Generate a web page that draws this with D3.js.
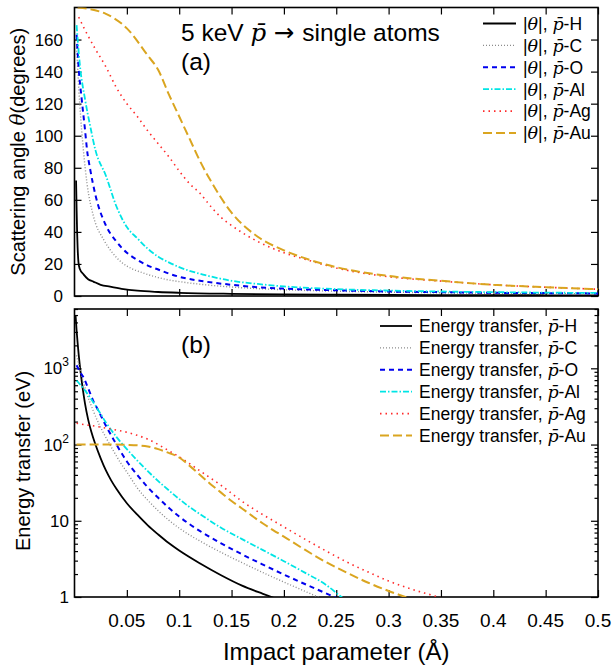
<!DOCTYPE html>
<html>
<head>
<meta charset="utf-8">
<script src="https://cdn.jsdelivr.net/npm/d3@7"></script>
<style>
  body { margin: 0; background: #fff; }
  svg { display: block; }
  text { font-family: "Liberation Sans", Arial, Helvetica, sans-serif; fill: #000; }
  .math { font-family: "DejaVu Serif", serif; font-style: italic; }
</style>
</head>
<body>
<svg id="drawing_region"></svg>
<script>
// impact parameter ticks (Angstrom)
const xTicks = [0.05, 0.1, 0.15, 0.2, 0.25, 0.3, 0.35, 0.4, 0.45, 0.5]
const thetaTicks = [0, 20, 40, 60, 80, 100, 120, 140, 160]
const energyTicks = [1, 10, 100, 1000]

const atoms = ['H', 'C', 'O', 'Al', 'Ag', 'Au']

// (a) scattering angle |theta| in degrees vs impact parameter
const thetaH = [[0.0015,72],[0.002,55],[0.0025,40],[0.003,30],[0.0038,21],[0.005,17],[0.0086,13.5],[0.013,10.5],[0.018,9],[0.025,7],[0.034,5.8],[0.045,4.5],[0.06,3.3],[0.08,2.5],[0.1,2],[0.15,1.35],[0.2,1],[0.25,0.8],[0.3,0.65],[0.35,0.55],[0.4,0.5],[0.45,0.45],[0.5,0.4]]
const thetaC = [[0.002,155],[0.005,120],[0.0085,91],[0.012,70],[0.018,50],[0.028,35],[0.035,28],[0.045,21],[0.055,17],[0.065,14.5],[0.08,11.5],[0.09,10],[0.1,9],[0.125,7],[0.15,5.6],[0.175,4.6],[0.2,3.9],[0.25,3],[0.3,2.4],[0.35,2],[0.4,1.7],[0.45,1.5],[0.5,1.3]]
const thetaO = [[0.002,163],[0.004,142],[0.007,122],[0.01,104],[0.012,91],[0.015,79],[0.02,63],[0.03,44],[0.04,34],[0.05,27],[0.06,22.5],[0.07,19],[0.08,16.5],[0.09,14],[0.1,12],[0.125,9],[0.15,7],[0.175,5.5],[0.2,4.6],[0.25,3.6],[0.3,2.8],[0.35,2.4],[0.4,2],[0.45,1.8],[0.5,1.6]]
const thetaAl = [[0.002,169],[0.005,145],[0.01,123],[0.015,106],[0.02,91],[0.03,75],[0.04,56],[0.05,43],[0.06,36],[0.07,29.5],[0.08,24.5],[0.09,21],[0.1,18],[0.125,13],[0.15,9.5],[0.175,7.5],[0.2,6],[0.25,4.3],[0.3,3.4],[0.35,2.8],[0.4,2.4],[0.45,2.1],[0.5,1.9]]
const thetaAg = [[0.004,174],[0.01,166],[0.02,154],[0.03,143],[0.04,130],[0.05,120],[0.06,112],[0.07,103],[0.08,95],[0.09,87],[0.1,78],[0.11,70],[0.12,64],[0.13,56],[0.14,49],[0.15,44],[0.175,34],[0.2,27],[0.225,22],[0.25,17.5],[0.3,12],[0.35,9.3],[0.4,7],[0.45,5.5],[0.5,4.2]]
const thetaAu = [[0.003,180],[0.03,176],[0.05,167],[0.07,150],[0.08,141],[0.09,126],[0.1,112],[0.11,98],[0.12,84],[0.13,72],[0.15,52],[0.175,37],[0.2,28.5],[0.225,22.5],[0.25,18],[0.3,12.5],[0.35,9.5],[0.4,7],[0.45,5.5],[0.5,4.2]]

// (b) energy transfer in eV vs impact parameter
const energyH = [[0.001,5000],[0.002,3160],[0.003,2140],[0.004,1510],[0.006,850],[0.008,525],[0.01,347],[0.013,214],[0.016,148],[0.02,100],[0.025,66],[0.03,45.7],[0.035,33.9],[0.04,26.3],[0.05,17],[0.06,12],[0.07,8.7],[0.08,6.6],[0.09,5.1],[0.1,4.07],[0.12,2.75],[0.14,1.93],[0.16,1.41],[0.18,1.1],[0.2,0.87]]
const energyC = [[0.002,1480],[0.005,1000],[0.008,692],[0.012,457],[0.018,275],[0.024,178],[0.031,117],[0.038,79],[0.044,57.5],[0.05,43.6],[0.06,26.9],[0.07,18.6],[0.08,13.5],[0.09,10.2],[0.1,8],[0.11,6.5],[0.12,5.4],[0.14,3.85],[0.16,2.82],[0.18,2.09],[0.2,1.57],[0.22,1.19],[0.23,1.035],[0.24,0.9]]
const energyO = [[0.002,1096],[0.005,912],[0.009,741],[0.013,550],[0.018,372],[0.023,275],[0.028,200],[0.033,148],[0.038,112],[0.044,81],[0.05,60],[0.06,39.8],[0.07,27.5],[0.08,20],[0.09,14.8],[0.1,11.35],[0.11,9],[0.12,7.3],[0.14,5.07],[0.16,3.63],[0.18,2.66],[0.2,1.97],[0.22,1.48],[0.24,1.12],[0.26,0.85]]
const energyAl = [[0.002,692],[0.01,513],[0.02,324],[0.03,195],[0.04,126],[0.05,87],[0.06,61.7],[0.07,44.7],[0.08,33.1],[0.09,25.1],[0.1,19.3],[0.11,15.1],[0.12,12.2],[0.14,8.1],[0.16,5.75],[0.18,4.12],[0.2,2.95],[0.22,2.09],[0.24,1.45],[0.255,1],[0.265,0.8]]
const energyAg = [[0.002,190],[0.01,182],[0.02,174],[0.03,164],[0.04,155],[0.05,145],[0.06,132],[0.07,117.5],[0.08,100],[0.09,83],[0.1,69],[0.11,56],[0.12,45],[0.13,36.3],[0.14,29.2],[0.15,22.9],[0.16,18],[0.17,14.6],[0.18,12],[0.19,10],[0.2,8.3],[0.22,5.75],[0.24,4.03],[0.26,2.88],[0.28,2.14],[0.3,1.62],[0.32,1.29],[0.34,1.07],[0.36,0.89]]
const energyAu = [[0.002,100],[0.03,100],[0.05,99],[0.06,97.7],[0.07,94.4],[0.08,87],[0.09,77.6],[0.1,67.6],[0.11,52.5],[0.12,39.8],[0.13,30.2],[0.14,23.4],[0.15,18.2],[0.16,14.5],[0.17,11.5],[0.18,9.2],[0.19,7.5],[0.2,6.2],[0.22,4.17],[0.24,2.88],[0.26,2.09],[0.28,1.55],[0.3,1.2],[0.316,1],[0.33,0.85]]

const thetaSeries = [thetaH, thetaC, thetaO, thetaAl, thetaAg, thetaAu]
const energySeries = [energyH, energyC, energyO, energyAl, energyAg, energyAu]

const styles = [
  {color: '#000000', dash: null, width: 1.8},
  {color: '#8c8c8c', dash: '1 2', width: 1.4},
  {color: '#0000ee', dash: '5 4', width: 2},
  {color: '#00e5e5', dash: '6 2 1.5 2', width: 1.8},
  {color: '#ff2a2a', dash: '1.5 4', width: 1.6},
  {color: '#daa520', dash: '9 4', width: 2}
]

const width = 615, height = 668
const left = 74.5, right = 598
const topA = 7.5, bottomA = 296
const topB = 309, bottomB = 597

const svg = d3.select('#drawing_region').attr('width', width).attr('height', height)

const x = d3.scaleLinear().domain([0, 0.5]).range([left, right])
const yA = d3.scaleLinear().domain([0, 180]).range([bottomA, topA])
const yB = d3.scaleLog().domain([1, 6000]).range([bottomB, topB])

const defs = svg.append('defs')
defs.append('clipPath').attr('id', 'clipA').append('rect')
  .attr('x', left).attr('y', topA).attr('width', right - left).attr('height', bottomA - topA)
defs.append('clipPath').attr('id', 'clipB').append('rect')
  .attr('x', left).attr('y', topB).attr('width', right - left).attr('height', bottomB - topB)

function mathLabel(sel, prefix, atom, withTheta){
  if(withTheta){
    sel.append('tspan').text('|')
    sel.append('tspan').attr('class', 'math').text('θ')
    sel.append('tspan').text('|, ')
  } else {
    sel.append('tspan').text(prefix)
  }
  sel.append('tspan').attr('class', 'math').text('p\u0304')
  sel.append('tspan').text('-' + atom)
}

// ---- axes / ticks (gnuplot style, inward, mirrored)
function drawFrame(y, top, bottom, yTickVals, minor){
  const g = svg.append('g').attr('class', 'axes')
  g.append('g').attr('transform', `translate(0,${bottom})`)
    .call(d3.axisBottom(x).tickValues(xTicks).tickSizeInner(-7).tickSizeOuter(0).tickFormat(''))
  g.append('g').attr('transform', `translate(0,${top})`)
    .call(d3.axisTop(x).tickValues(xTicks).tickSizeInner(-7).tickSizeOuter(0).tickFormat(''))
  g.append('g').attr('transform', `translate(${left},0)`)
    .call(d3.axisLeft(y).tickValues(yTickVals).tickSizeInner(-7).tickSizeOuter(0).tickFormat(''))
  g.append('g').attr('transform', `translate(${right},0)`)
    .call(d3.axisRight(y).tickValues(yTickVals).tickSizeInner(-7).tickSizeOuter(0).tickFormat(''))
  if(minor){
    g.append('g').attr('transform', `translate(${left},0)`)
      .call(d3.axisLeft(y).tickValues(minor).tickSizeInner(-3.5).tickSizeOuter(0).tickFormat(''))
    g.append('g').attr('transform', `translate(${right},0)`)
      .call(d3.axisRight(y).tickValues(minor).tickSizeInner(-3.5).tickSizeOuter(0).tickFormat(''))
  }
  g.selectAll('.domain').remove()
  g.selectAll('.tick line').attr('stroke', '#000').attr('stroke-width', 1.2)
  svg.append('rect')
    .attr('x', left).attr('y', top).attr('width', right - left).attr('height', bottom - top)
    .attr('fill', 'none').attr('stroke', '#000').attr('stroke-width', 1.6)
}

drawFrame(yA, topA, bottomA, thetaTicks, null)

const minorB = []
for(let d = 1; d <= 1000; d *= 10){
  for(let k = 2; k <= 9; k++){
    if(d * k <= 6000) minorB.push(d * k)
  }
}
drawFrame(yB, topB, bottomB, energyTicks, minorB)

// ---- curves
const lineA = d3.line().x(d => x(d[0])).y(d => yA(d[1])).curve(d3.curveMonotoneX)
const lineB = d3.line().x(d => x(d[0])).y(d => yB(d[1])).curve(d3.curveMonotoneX)

const curvesA = svg.append('g').attr('clip-path', 'url(#clipA)')
thetaSeries.forEach((s, i) => {
  curvesA.append('path').datum(s).attr('d', lineA)
    .attr('fill', 'none').attr('stroke', styles[i].color)
    .attr('stroke-width', styles[i].width).attr('stroke-dasharray', styles[i].dash)
})
const curvesB = svg.append('g').attr('clip-path', 'url(#clipB)')
energySeries.forEach((s, i) => {
  curvesB.append('path').datum(s).attr('d', lineB)
    .attr('fill', 'none').attr('stroke', styles[i].color)
    .attr('stroke-width', styles[i].width).attr('stroke-dasharray', styles[i].dash)
})

// ---- tick labels
svg.append('g').selectAll('text').data(thetaTicks).join('text')
  .attr('x', 63).attr('y', d => yA(d)).attr('dy', '0.36em')
  .attr('text-anchor', 'end').attr('font-size', 17).text(d => d)

const eLab = svg.append('g').selectAll('text').data(energyTicks).join('text')
  .attr('x', 69).attr('y', d => yB(d)).attr('dy', '0.36em')
  .attr('text-anchor', 'end').attr('font-size', 17)
eLab.each(function(d){
  const t = d3.select(this)
  if(d < 100){
    t.text(d)
  } else {
    t.append('tspan').text('10')
    t.append('tspan').attr('font-size', 12).attr('dy', -8).text(Math.round(Math.log10(d)))
  }
})

svg.append('g').selectAll('text').data(xTicks).join('text')
  .attr('x', d => x(d)).attr('y', 627)
  .attr('text-anchor', 'middle').attr('font-size', 19).text(d => d)

// ---- axis titles
const tA = svg.append('text').attr('transform', `translate(25,${(topA + bottomA) / 2}) rotate(-90)`)
  .attr('text-anchor', 'middle').attr('font-size', 20)
tA.append('tspan').text('Scattering angle ')
tA.append('tspan').attr('class', 'math').text('θ')
tA.append('tspan').text('(degrees)')

svg.append('text').attr('transform', `translate(30,${(topB + bottomB) / 2 + 8}) rotate(-90)`)
  .attr('text-anchor', 'middle').attr('font-size', 20).text('Energy transfer (eV)')

svg.append('text').attr('x', (left + right) / 2).attr('y', 660)
  .attr('text-anchor', 'middle').attr('font-size', 24).text('Impact parameter (Å)')

// ---- annotations
const ann = svg.append('text').attr('x', 181).attr('y', 41).attr('font-size', 24.5)
ann.append('tspan').text('5 keV ')
ann.append('tspan').attr('class', 'math').text('p\u0304')
ann.append('tspan').attr('font-family', 'DejaVu Sans').text(' \u2192 ')
ann.append('tspan').text('single atoms')
svg.append('text').attr('x', 181).attr('y', 70).attr('font-size', 24.5).text('(a)')
svg.append('text').attr('x', 181).attr('y', 353).attr('font-size', 24.5).text('(b)')

// ---- legends
function legend(x0, x1, tx, y0, withTheta){
  atoms.forEach((a, i) => {
    const yy = y0 + i * 21.9
    svg.append('line').attr('x1', x0).attr('x2', x1).attr('y1', yy).attr('y2', yy)
      .attr('stroke', styles[i].color).attr('stroke-width', styles[i].width)
      .attr('stroke-dasharray', styles[i].dash)
    const t = svg.append('text').attr('x', tx).attr('y', yy).attr('dy', '0.36em').attr('font-size', 17.5)
    mathLabel(t, 'Energy transfer, ', a, withTheta)
  })
}
legend(483, 516, 523, 23.5, true)
legend(380, 412, 419, 326, false)
</script>
</body>
</html>
